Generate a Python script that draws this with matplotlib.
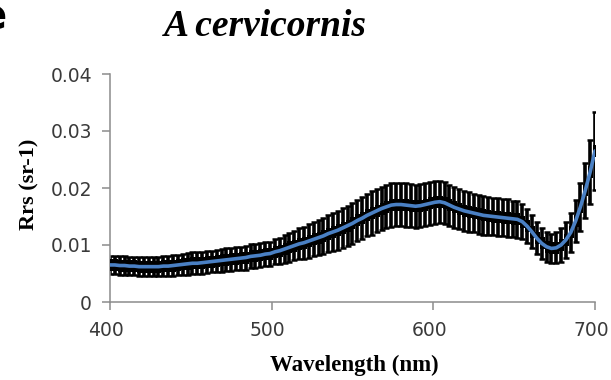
import matplotlib
matplotlib.use("Agg")
import matplotlib.pyplot as plt
from matplotlib.path import Path
from matplotlib.transforms import ScaledTranslation

# Remote-sensing reflectance spectrum, mean +/- SD, sampled every 3 nm
wavelength = list(range(400, 701, 3))

rrs_mean = [
    0.0065, 0.0065, 0.0064, 0.0064, 0.0063, 0.0063, 0.0062, 0.0062, 0.0062, 0.0062,  # 400-427
    0.0062, 0.0063, 0.0063, 0.0064, 0.0065, 0.0066, 0.0067, 0.0068, 0.0068, 0.0069,  # 430-457
    0.0070, 0.0071, 0.0072, 0.0073, 0.0074, 0.0075, 0.0076, 0.0077, 0.0078, 0.0080,  # 460-487
    0.0081, 0.0082, 0.0084, 0.0085, 0.0088, 0.0090, 0.0093, 0.0096, 0.0099, 0.0102,  # 490-517
    0.0104, 0.0107, 0.0110, 0.0113, 0.0116, 0.0120, 0.0123, 0.0126, 0.0130, 0.0134,  # 520-547
    0.0138, 0.0143, 0.0147, 0.0152, 0.0156, 0.0160, 0.0164, 0.0167, 0.0170, 0.0171,  # 550-577
    0.0171, 0.0170, 0.0169, 0.0168, 0.0169, 0.0171, 0.0173, 0.0175, 0.0176, 0.0174,  # 580-607
    0.0170, 0.0166, 0.0163, 0.0160, 0.0158, 0.0156, 0.0154, 0.0152, 0.0151, 0.0150,  # 610-637
    0.0149, 0.0148, 0.0147, 0.0146, 0.0145, 0.0141, 0.0133, 0.0123, 0.0112, 0.0103,  # 640-667
    0.0097, 0.0094, 0.0095, 0.0100, 0.0109, 0.0122, 0.0142, 0.0167, 0.0196, 0.0228,  # 670-697
    0.0265,                                                                          # 700
]

rrs_sd = [
    0.0016, 0.0016, 0.0016, 0.0016, 0.0016, 0.0016, 0.0017, 0.0017, 0.0017, 0.0017,
    0.0017, 0.0018, 0.0018, 0.0018, 0.0018, 0.0018, 0.0019, 0.0019, 0.0019, 0.0019,
    0.0019, 0.0019, 0.0020, 0.0020, 0.0020, 0.0020, 0.0020, 0.0020, 0.0021, 0.0021,
    0.0021, 0.0021, 0.0021, 0.0021, 0.0022, 0.0023, 0.0024, 0.0025, 0.0026, 0.0027,
    0.0028, 0.0029, 0.0030, 0.0031, 0.0032, 0.0033, 0.0033, 0.0034, 0.0035, 0.0035,
    0.0036, 0.0036, 0.0037, 0.0037, 0.0038, 0.0038, 0.0038, 0.0038, 0.0038, 0.0038,
    0.0038, 0.0038, 0.0038, 0.0038, 0.0038, 0.0038, 0.0038, 0.0038, 0.0037, 0.0037,
    0.0036, 0.0036, 0.0035, 0.0035, 0.0035, 0.0034, 0.0034, 0.0034, 0.0034, 0.0033,
    0.0033, 0.0033, 0.0033, 0.0032, 0.0032, 0.0031, 0.0030, 0.0029, 0.0028, 0.0027,
    0.0026, 0.0026, 0.0027, 0.0029, 0.0031, 0.0034, 0.0037, 0.0042, 0.0048, 0.0056,
    0.0068,
]

x_ticks = [400, 500, 600, 700]
y_ticks = [0, 0.01, 0.02, 0.03, 0.04]
y_tick_labels = ["0", "0.01", "0.02", "0.03", "0.04"]

title_text = "A cervicornis"
x_label = "Wavelength (nm)"
y_label = "Rrs (sr-1)"

W, H = 611, 380
fig = plt.figure(figsize=(W / 100, H / 100), dpi=100)
ax = fig.add_axes([110 / W, 78 / H, 485 / W, 228 / H])

# error bars: thick black stems with caps
ax.errorbar(wavelength, rrs_mean, yerr=rrs_sd, fmt="none", ecolor="black",
            elinewidth=2.6, capsize=1.9, capthick=1.8, zorder=2)

# black blocks behind the mean line at every sample
rect = Path([(-0.2, -0.5), (0.2, -0.5), (0.2, 0.5), (-0.2, 0.5), (-0.2, -0.5)],
            [Path.MOVETO, Path.LINETO, Path.LINETO, Path.LINETO, Path.CLOSEPOLY])
ax.plot(wavelength, rrs_mean, ls="none", marker=rect, markersize=9.0,
        markeredgewidth=0, color="black", zorder=3)

# mean spectrum
ax.plot(wavelength, rrs_mean, color="#4a80c4", lw=2.6, solid_capstyle="round", zorder=4)

ax.set_xlim(400, 700)
ax.set_ylim(0, 0.04)
ax.set_xticks(x_ticks)
ax.set_yticks(y_ticks)
ax.set_yticklabels(y_tick_labels)

for side in ("top", "right"):
    ax.spines[side].set_visible(False)
for side in ("left", "bottom"):
    ax.spines[side].set_color("#8c8c8c")
    ax.spines[side].set_linewidth(1.1)

ax.tick_params(axis="both", direction="out", length=5.5, width=1.1, color="#8c8c8c",
               labelsize=13.5, labelcolor="#3a3a3a")
ax.tick_params(axis="y", pad=7.5)
ax.tick_params(axis="x", pad=8.0)
shift_left = ScaledTranslation(-4 / 100, 0, fig.dpi_scale_trans)
for lab in ax.get_xticklabels():
    lab.set_fontfamily("DejaVu Sans")
    lab.set_transform(lab.get_transform() + shift_left)
for lab in ax.get_yticklabels():
    lab.set_fontfamily("DejaVu Sans")

serif = "Liberation Serif"
ax.set_xlabel(x_label, fontsize=16.5, fontweight="bold", family=serif)
ax.set_ylabel(y_label, fontsize=16, fontweight="bold", family=serif, va="center")
ax.yaxis.set_label_coords((29 - 110) / 485, (306 - 188) / 228)
ax.xaxis.set_label_coords((354 - 110) / 485, -(365 - 302) / 228)
ax.xaxis.label.set_va("center")

fig.text(265 / W, 1 - 36 / H, title_text, fontsize=27, fontweight="bold",
         fontstyle="italic", family=serif, ha="center", va="baseline")

# panel letter at the upper-left edge
fig.text(7 / W, 1 + 4 / H, "e", fontsize=30, fontweight="bold",
         family="DejaVu Sans", ha="right", va="top")

fig.savefig("out.png", dpi=100)
